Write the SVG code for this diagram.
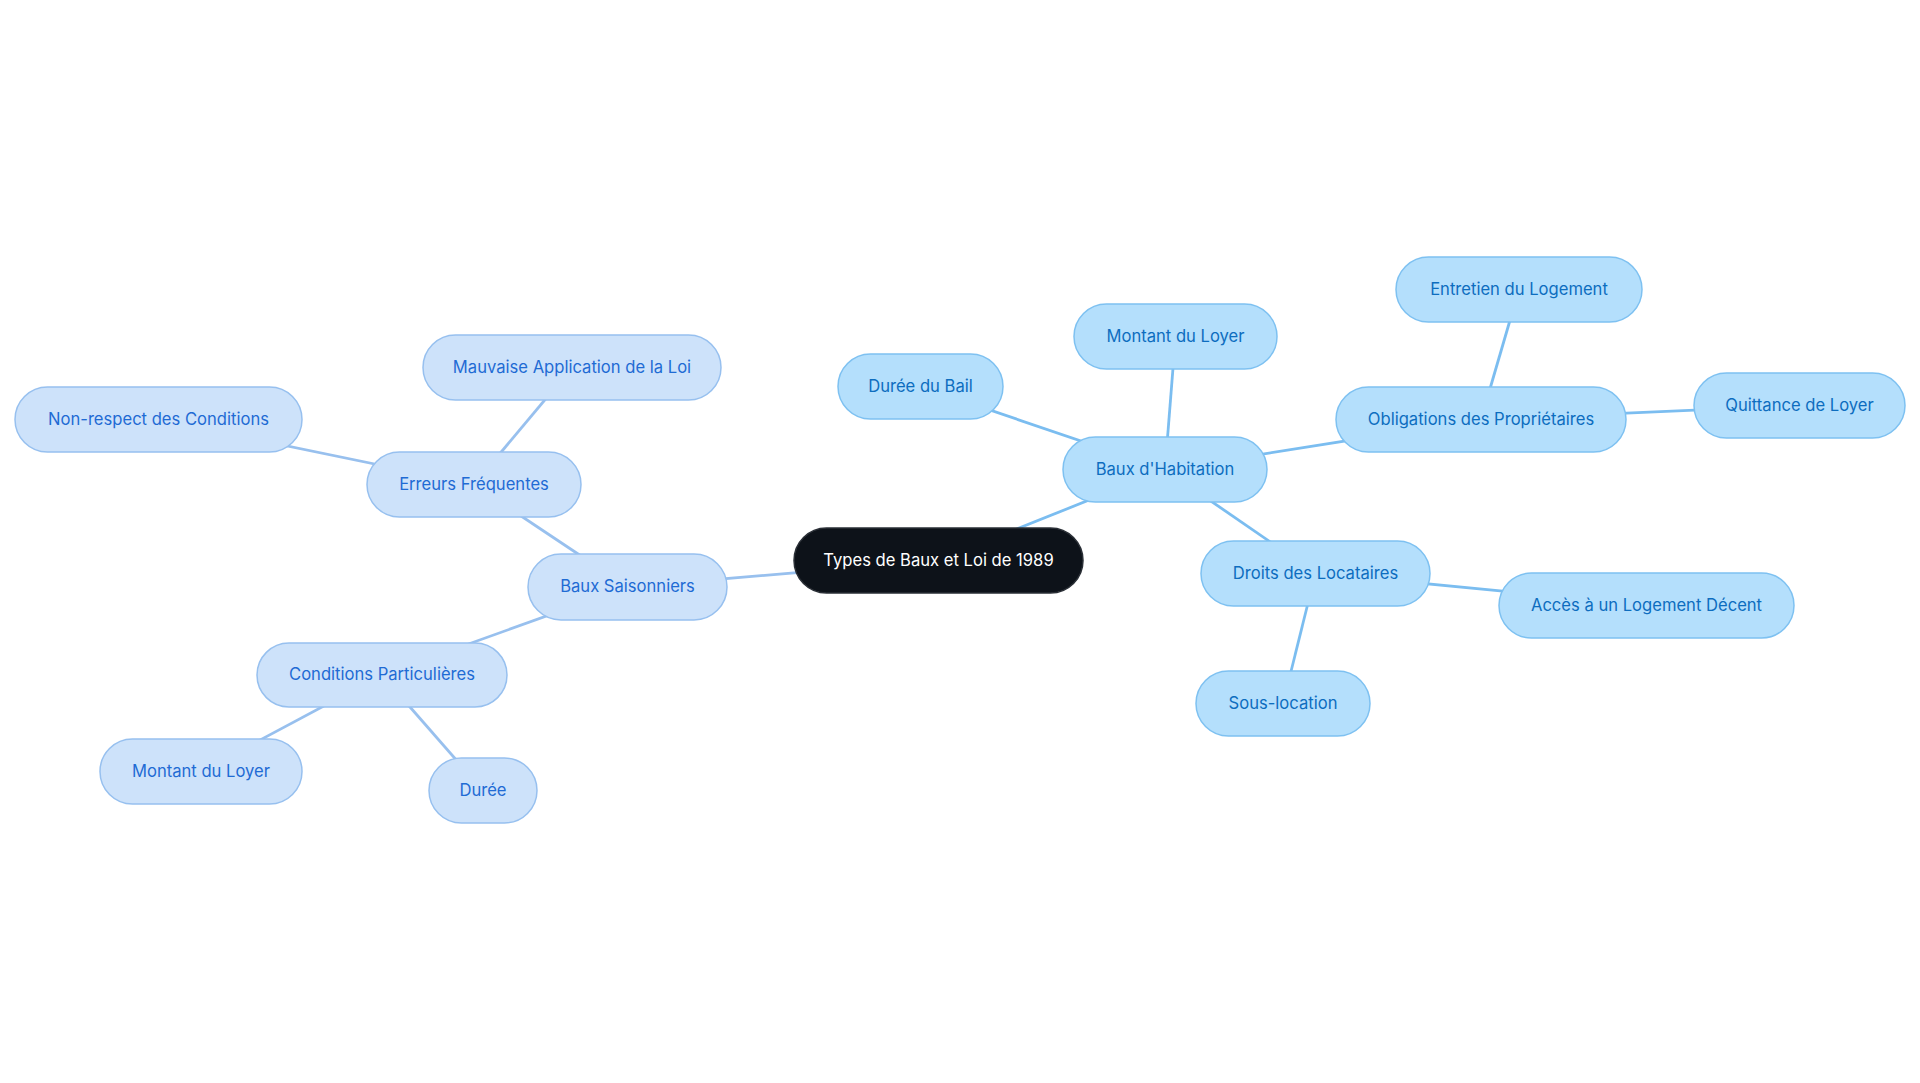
<svg xmlns="http://www.w3.org/2000/svg" width="1920" height="1083" viewBox="0 0 1920 1083">
<style>
text{font-family:Inter,"Noto Sans","Liberation Sans",sans-serif;font-size:16.6px;text-anchor:middle;dominant-baseline:central}
.c rect{fill:#0d1219;stroke:#2a2f36;stroke-width:1.5}
.c text{fill:#ffffff}
.r rect{fill:#b4dffc;stroke:#7ec1f1;stroke-width:1.5}
.r text{fill:#0d6dbf}
.l rect{fill:#cde2fa;stroke:#97c0ef;stroke-width:1.5}
.l text{fill:#1f6bd4}
.er{stroke:#7bbdf0;stroke-width:2.8;fill:none}
.el{stroke:#98c0ee;stroke-width:2.8;fill:none}
</style>
<rect width="1920" height="1083" fill="#ffffff"/>
<g id="connectors">
<line class="er" x1="938.5" y1="560.5" x2="1165" y2="469.5"/>
<line class="el" x1="938.5" y1="560.5" x2="627.5" y2="587"/>
<line class="er" x1="1165" y1="469.5" x2="920.5" y2="386.5"/>
<line class="er" x1="1165" y1="469.5" x2="1175.5" y2="336.5"/>
<line class="er" x1="1165" y1="469.5" x2="1481" y2="419.5"/>
<line class="er" x1="1165" y1="469.5" x2="1315.5" y2="573"/>
<line class="er" x1="1481" y1="419.5" x2="1519" y2="289.5"/>
<line class="er" x1="1481" y1="419.5" x2="1799.5" y2="405.5"/>
<line class="er" x1="1315.5" y1="573" x2="1646.5" y2="605"/>
<line class="er" x1="1315.5" y1="573" x2="1283" y2="703.5"/>
<line class="el" x1="627.5" y1="587" x2="474" y2="484.5"/>
<line class="el" x1="627.5" y1="587" x2="382" y2="675"/>
<line class="el" x1="474" y1="484.5" x2="572" y2="367.5"/>
<line class="el" x1="474" y1="484.5" x2="158.5" y2="419.5"/>
<line class="el" x1="382" y1="675" x2="201" y2="771.5"/>
<line class="el" x1="382" y1="675" x2="483" y2="790.5"/>
</g>
<g id="n-center" class="c"><rect x="794" y="528" width="289" height="65" rx="32.5"/><text x="938.5" y="559.5">Types de Baux et Loi de 1989</text></g>
<g id="n-habitation" class="r"><rect x="1063" y="437" width="204" height="65" rx="32.5"/><text x="1165" y="468.5">Baux d'Habitation</text></g>
<g id="n-duree-bail" class="r"><rect x="838" y="354" width="165" height="65" rx="32.5"/><text x="920.5" y="385.5">Durée du Bail</text></g>
<g id="n-montant-r" class="r"><rect x="1074" y="304" width="203" height="65" rx="32.5"/><text x="1175.5" y="335.5">Montant du Loyer</text></g>
<g id="n-obligations" class="r"><rect x="1336" y="387" width="290" height="65" rx="32.5"/><text x="1481" y="418.5">Obligations des Propriétaires</text></g>
<g id="n-entretien" class="r"><rect x="1396" y="257" width="246" height="65" rx="32.5"/><text x="1519" y="288.5">Entretien du Logement</text></g>
<g id="n-quittance" class="r"><rect x="1694" y="373" width="211" height="65" rx="32.5"/><text x="1799.5" y="404.5">Quittance de Loyer</text></g>
<g id="n-droits" class="r"><rect x="1201" y="541" width="229" height="65" rx="32.5"/><text x="1315.5" y="572.5">Droits des Locataires</text></g>
<g id="n-acces" class="r"><rect x="1499" y="573" width="295" height="65" rx="32.5"/><text x="1646.5" y="604.5">Accès à un Logement Décent</text></g>
<g id="n-souslocation" class="r"><rect x="1196" y="671" width="174" height="65" rx="32.5"/><text x="1283" y="702.5">Sous-location</text></g>
<g id="n-saisonniers" class="l"><rect x="528" y="554" width="199" height="66" rx="33"/><text x="627.5" y="586">Baux Saisonniers</text></g>
<g id="n-erreurs" class="l"><rect x="367" y="452" width="214" height="65" rx="32.5"/><text x="474" y="483.5">Erreurs Fréquentes</text></g>
<g id="n-mauvaise" class="l"><rect x="423" y="335" width="298" height="65" rx="32.5"/><text x="572" y="366.5">Mauvaise Application de la Loi</text></g>
<g id="n-nonrespect" class="l"><rect x="15" y="387" width="287" height="65" rx="32.5"/><text x="158.5" y="418.5">Non-respect des Conditions</text></g>
<g id="n-conditions" class="l"><rect x="257" y="643" width="250" height="64" rx="32"/><text x="382" y="674">Conditions Particulières</text></g>
<g id="n-montant-l" class="l"><rect x="100" y="739" width="202" height="65" rx="32.5"/><text x="201" y="770.5">Montant du Loyer</text></g>
<g id="n-duree" class="l"><rect x="429" y="758" width="108" height="65" rx="32.5"/><text x="483" y="789.5">Durée</text></g>
</svg>
